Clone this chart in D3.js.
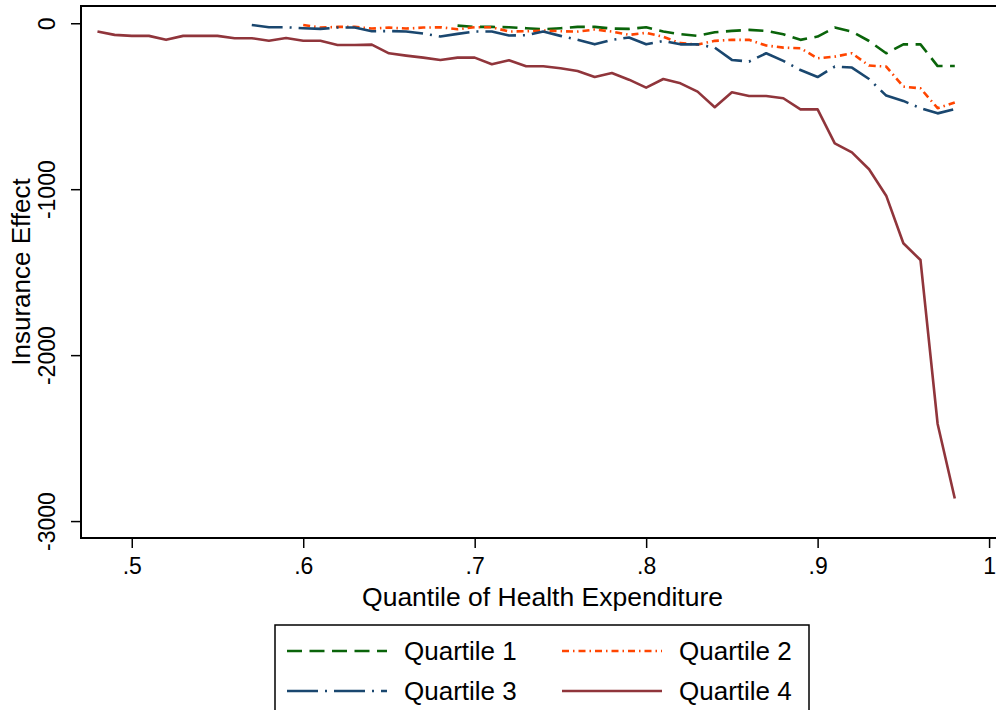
<!DOCTYPE html>
<html>
<head>
<meta charset="utf-8">
<script src="https://cdn.jsdelivr.net/npm/d3@7"></script>
<style>
  html, body { margin: 0; padding: 0; background: #fff; }
  svg { display: block; font-family: "Liberation Sans", Arial, Helvetica, sans-serif; }
</style>
</head>
<body>
<svg id="chart" width="996" height="710"></svg>
<script>
// Insurance effect by quantile of health expenditure, one line per income quartile
const quantilesQ1 = d3.range(69, 99).map(d => d / 100);
const quantilesQ2 = d3.range(60, 99).map(d => d / 100);
const quantilesQ3 = d3.range(57, 99).map(d => d / 100);
const quantilesQ4 = d3.range(48, 99).map(d => d / 100);

const effectQ1 = [-14, -22, -22, -24, -30, -36, -30, -22, -22, -32, -34, -24, -50, -66, -76,
  -54, -46, -40, -46, -66, -100, -80, -26, -50, -107, -181, -127, -127, -258, -258];

const effectQ2 = [-10, -26, -22, -22, -32, -26, -32, -26, -24, -36, -24, -24, -50, -48, -44,
  -48, -50, -38, -50, -70, -58, -82, -120, -128, -106, -100, -100, -134, -147, -151,
  -211, -201, -181, -255, -261, -382, -392, -512, -478];

const effectQ3 = [-10, -24, -24, -30, -34, -26, -26, -48, -47, -50, -62, -80, -64, -50, -50,
  -74, -72, -50, -76, -100, -127, -100, -86, -127, -107, -127, -127, -147, -221, -231,
  -181, -227, -282, -324, -261, -267, -336, -436, -468, -512, -543, -518];

const effectQ4 = [-50, -70, -76, -76, -100, -76, -76, -76, -90, -90, -105, -89, -105, -105, -131,
  -131, -129, -181, -195, -207, -221, -207, -207, -247, -223, -259, -259, -271, -288, -324,
  -300, -340, -388, -336, -362, -412, -506, -416, -438, -438, -452, -519, -519, -724, -778,
  -880, -1039, -1326, -1427, -2415, -2864];

const seriesNames = ["Quartile 1", "Quartile 2", "Quartile 3", "Quartile 4"];
const xTicks = [0.5, 0.6, 0.7, 0.8, 0.9, 1.0];
const xTickLabels = [".5", ".6", ".7", ".8", ".9", "1"];
const yTicks = [0, -1000, -2000, -3000];
const yTickLabels = ["0", "-1000", "-2000", "-3000"];

const series = [
  { name: seriesNames[0], x: quantilesQ1, y: effectQ1, color: "#0a640a", dash: "15,7.5" },
  { name: seriesNames[1], x: quantilesQ2, y: effectQ2, color: "#ff4500", dash: "7,4,1.5,4" },
  { name: seriesNames[2], x: quantilesQ3, y: effectQ3, color: "#1a476f", dash: "31,7,2,7" },
  { name: seriesNames[3], x: quantilesQ4, y: effectQ4, color: "#90353b", dash: null }
];

const svg = d3.select("#chart");
const plot = { left: 81, right: 1004, top: 6, bottom: 538 };

const x = d3.scaleLinear().domain([0.4704, 1.0087]).range([plot.left, plot.right]);
const y = d3.scaleLinear().domain([-3102, 104]).range([plot.bottom, plot.top]);

// Plot frame
svg.append("rect")
  .attr("x", plot.left).attr("y", plot.top)
  .attr("width", plot.right - plot.left).attr("height", plot.bottom - plot.top)
  .attr("fill", "none").attr("stroke", "#000").attr("stroke-width", 2);

// Lines
const line = d3.line().x(d => x(d[0])).y(d => y(d[1]));
const lines = svg.append("g");
series.forEach(s => {
  lines.append("path")
    .datum(s.x.map((q, i) => [q, s.y[i]]))
    .attr("d", line)
    .attr("fill", "none")
    .attr("stroke", s.color)
    .attr("stroke-width", 2.6)
    .attr("stroke-linejoin", "round")
    .attr("stroke-dasharray", s.dash);
});

// X axis
const xAxis = svg.append("g")
  .attr("transform", `translate(0,${plot.bottom})`)
  .call(d3.axisBottom(x).tickValues(xTicks).tickSize(10).tickSizeOuter(0)
    .tickFormat((d, i) => xTickLabels[i]));
xAxis.select(".domain").remove();
xAxis.selectAll(".tick line").attr("stroke", "#000").attr("stroke-width", 1.5);
xAxis.selectAll(".tick text")
  .attr("y", 20).attr("dy", "0.71em")
  .attr("font-size", 23).attr("fill", "#000")
  .style("font-family", "'Liberation Sans', Arial, sans-serif");

// Y axis with rotated labels
const yAxis = svg.append("g")
  .attr("transform", `translate(${plot.left},0)`)
  .call(d3.axisLeft(y).tickValues(yTicks).tickSize(10).tickSizeOuter(0)
    .tickFormat((d, i) => yTickLabels[i]));
yAxis.select(".domain").remove();
yAxis.selectAll(".tick line").attr("stroke", "#000").attr("stroke-width", 1.5);
yAxis.selectAll(".tick text")
  .attr("x", null).attr("dy", null)
  .attr("transform", "translate(-26,0) rotate(-90)")
  .attr("text-anchor", "middle")
  .attr("font-size", 23).attr("fill", "#000")
  .style("font-family", "'Liberation Sans', Arial, sans-serif");

// Axis titles
svg.append("text")
  .attr("x", (plot.left + plot.right) / 2).attr("y", 606)
  .attr("text-anchor", "middle").attr("font-size", 26.5).attr("fill", "#000")
  .text("Quantile of Health Expenditure");

svg.append("text")
  .attr("transform", `translate(30,${(plot.top + plot.bottom) / 2}) rotate(-90)`)
  .attr("text-anchor", "middle").attr("font-size", 26).attr("fill", "#000")
  .text("Insurance Effect");

// Legend
const legend = svg.append("g");
legend.append("rect")
  .attr("x", 275).attr("y", 625).attr("width", 534).attr("height", 100)
  .attr("fill", "#fff").attr("stroke", "#000").attr("stroke-width", 1.5);

const cols = [287, 562];
const rows = [651, 691];
series.forEach((s, i) => {
  const cx = cols[i % 2], cy = rows[Math.floor(i / 2)];
  legend.append("line")
    .attr("x1", cx).attr("x2", cx + 100).attr("y1", cy).attr("y2", cy)
    .attr("stroke", s.color).attr("stroke-width", 2.6)
    .attr("stroke-dasharray", s.dash);
  legend.append("text")
    .attr("x", cx + 117).attr("y", cy).attr("dy", "0.36em")
    .attr("font-size", 26).attr("fill", "#000")
    .text(s.name);
});
</script>
</body>
</html>
